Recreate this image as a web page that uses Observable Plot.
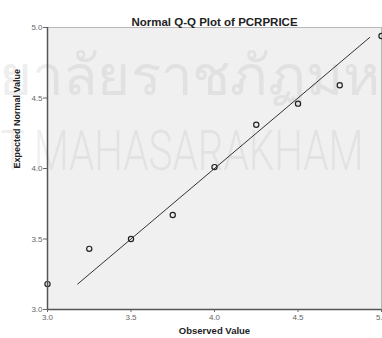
<!DOCTYPE html>
<html><head><meta charset="utf-8">
<script src="https://cdn.jsdelivr.net/npm/d3@7"></script>
<script src="https://cdn.jsdelivr.net/npm/@observablehq/plot@0.6"></script>
<style>body{margin:0;background:#fff}svg{display:block}</style>
</head><body><div id="c"></div>
<script>
const observed = [3.0, 3.25, 3.5, 3.75, 4.0, 4.25, 4.5, 4.75, 5.0];
const expected = [3.18, 3.43, 3.50, 3.67, 4.01, 4.31, 4.46, 4.59, 4.94];
const lineX = [3.18, 4.93];
const ticks = [3.0, 3.5, 4.0, 4.5, 5.0];
const title = "Normal Q-Q Plot of PCRPRICE";
const xLabel = "Observed Value";
const yLabel = "Expected Normal Value";
const watermark = ["ยาลัยราชภัฏมห", "T MAHASARAKHAM"];

const pts = observed.map((o, i) => ({o, e: expected[i]}));
const fmt = d3.format(".1f");
const chart = Plot.plot({
  width: 382, height: 338,
  marginLeft: 47, marginRight: 1, marginTop: 27, marginBottom: 29,
  style: {fontFamily: "Arial, 'Liberation Sans', sans-serif", background: "#fff", overflow: "visible"},
  x: {domain: [3, 5], ticks, tickFormat: fmt, label: null},
  y: {domain: [3, 5], ticks, tickFormat: fmt, label: null},
  marks: [
    Plot.frame({fill: "#f0f0f0", stroke: "#b8b8b8"}),
    Plot.text([watermark[0]], {className: "wm0", frameAnchor: "top-left", text: d => d, dx: -49, dy: 28, fontSize: 56, fill: "#999", fillOpacity: 0.17, textAnchor: "start"}),
    Plot.text([watermark[1]], {className: "wm1", frameAnchor: "top-left", text: d => d, dx: -47, dy: 103, fontSize: 56, fill: "#999", fillOpacity: 0.17, textAnchor: "start", fontWeight: 300, fontFamily: "Roboto"}),
    Plot.line(lineX.map(v => ({v})), {x: "v", y: "v", stroke: "#333", strokeWidth: 1}),
    Plot.dot(pts, {x: "o", y: "e", r: 2.6, stroke: "#222", strokeWidth: 1.2, fill: "none"}),
    Plot.ruleX([3], {stroke: "#555", strokeWidth: 1.5}),
    Plot.ruleY([3], {stroke: "#555", strokeWidth: 1.5}),
    Plot.axisX({ticks, tickFormat: fmt, tickSize: 3, fontSize: 8, color: "#666", label: null, tickPadding: 2}),
    Plot.axisY({ticks, tickFormat: fmt, tickSize: 4, fontSize: 8, color: "#666", label: null, tickPadding: 1}),
    Plot.text([title], {frameAnchor: "top", text: d => d, dy: -10, fontSize: 11.5, fontWeight: "bold", fill: "#222"}),
    Plot.text([xLabel], {frameAnchor: "bottom", text: d => d, dy: 24, fontSize: 9.5, fontWeight: "bold", fill: "#222"}),
    Plot.text([yLabel], {frameAnchor: "left", text: d => d, dx: -30, rotate: -90, fontSize: 9, fontWeight: "bold", fill: "#222"})
  ]
});
d3.select(chart).selectAll(".wm0 text").attr("textLength", 382).attr("lengthAdjust", "spacingAndGlyphs");
d3.select(chart).selectAll(".wm1 text").attr("textLength", 363).attr("lengthAdjust", "spacingAndGlyphs");
document.getElementById("c").append(chart);
</script></body></html>
